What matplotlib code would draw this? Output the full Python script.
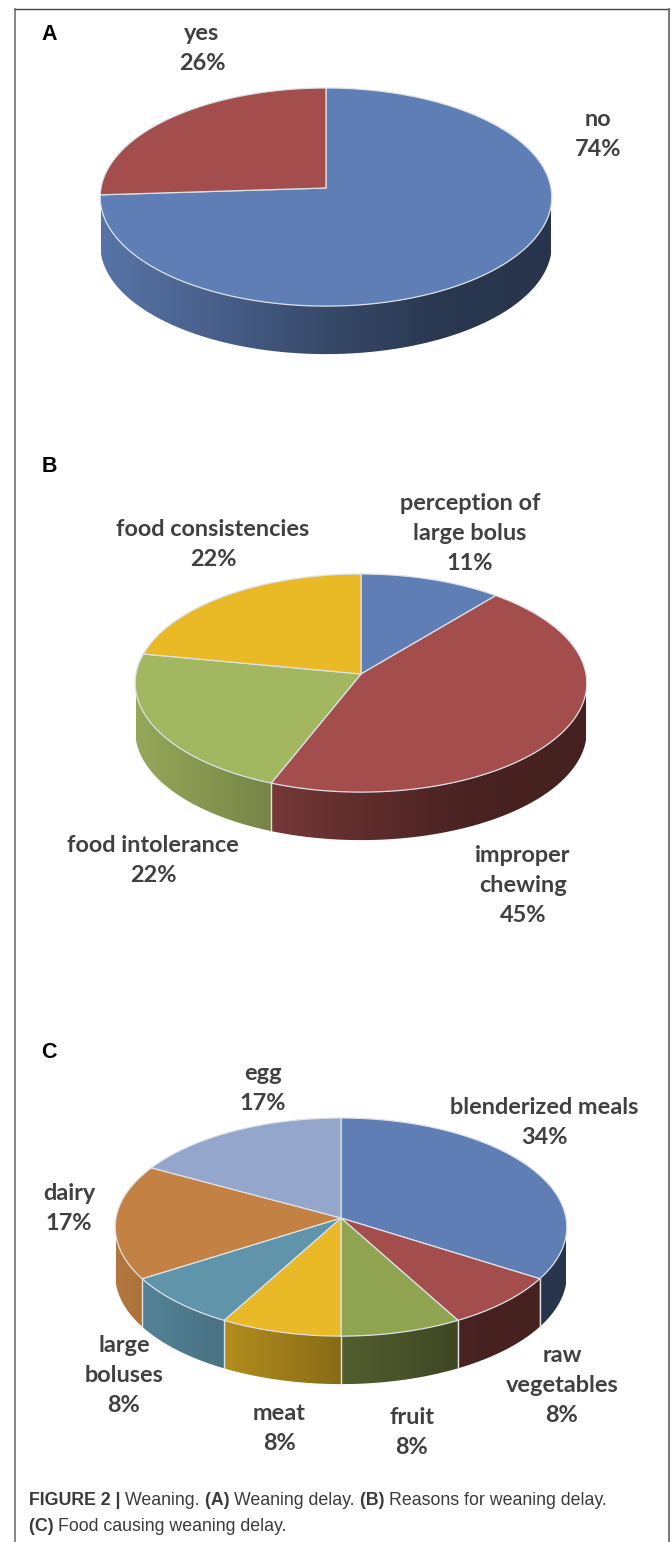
import numpy as np
import matplotlib
matplotlib.use("Agg")
from matplotlib import pyplot as plt
from matplotlib.patches import Polygon

# pie values, percent, clockwise from 12 o'clock
labels_a = ["no\n74%", "yes\n26%"]
values_a = [74, 26]
labels_b = ["perception of\nlarge bolus\n11%", "improper\nchewing\n45%", "food intolerance\n22%", "food consistencies\n22%"]
values_b = [11, 45, 22, 22]
labels_c = ["blenderized meals\n34%", "raw\nvegetables\n8%", "fruit\n8%", "meat\n8%", "large\nboluses\n8%", "dairy\n17%", "egg\n17%"]
values_c = [34, 8, 8, 8, 8, 17, 17]

colors_a = ["#5f7eb6", "#a34e4c"]
colors_b = ["#5f7eb6", "#a34e4c", "#a3b660", "#eab926"]
colors_c = ["#5f7eb6", "#a34e4c", "#90a350", "#e9b927", "#5f94ab", "#c48144", "#94a6cb"]

# label centres, first line centre y in pixels
pos_a = [(598, 120), (202, 33)]
pos_b = [(470, 503), (523, 856), (153, 845), (213, 530)]
pos_c = [(544, 1108), (562, 1356), (412, 1417), (279, 1413), (124, 1346), (69, 1194), (263, 1073)]

LABEL_FONT = "Lato"
LABEL_SIZE = 16.9
LINE_GAP = 30.0
RX = 225.0
RY = 108.3
K = 0.083
DEPTH = 48.0
SHADE_X = [0.0, 0.25, 0.5, 0.75, 1.0]
SHADE_F = [0.92, 0.76, 0.58, 0.44, 0.42]


def rim(t, cx, cy, depth=0.0):
    # perspective circle, t in radians clockwise from top
    u, v = np.sin(t), np.cos(t)
    w = 1 + K * v
    return cx + RX * u / w, cy - RY * v / w + depth


def draw_wall(ax, t0, t1, cx, cy, color):
    front0 = np.arccos(-K)
    front1 = 2 * np.pi - front0
    t0, t1 = max(t0, front0), min(t1, front1)
    if t1 <= t0:
        return
    t = np.linspace(t0, t1, 120)
    x, y = rim(t, cx, cy)
    xb, yb = rim(t[::-1], cx, cy, DEPTH)
    poly = Polygon(np.c_[np.r_[x, xb], np.r_[y, yb]], closed=True, fc="none", ec="none")
    ax.add_patch(poly)
    rgb = np.array(matplotlib.colors.to_rgb(color))
    xs = np.linspace(cx - RX, cx + RX, 300)
    shade = np.interp((xs - xs[0]) / (xs[-1] - xs[0]), SHADE_X, SHADE_F)
    grad = (shade[:, None] * rgb)[None, :, :]
    im = ax.imshow(grad, extent=[xs[0], xs[-1], cy + RY * 2 + DEPTH, cy - RY * 2],
                   aspect="auto", interpolation="bilinear", zorder=2)
    im.set_clip_path(poly)


def draw_pie(ax, values, colors, cx, cy):
    edges = np.r_[0, np.cumsum(values)] / np.sum(values) * 2 * np.pi
    for i, c in enumerate(colors):
        draw_wall(ax, edges[i], edges[i + 1], cx, cy, c)
    front0 = np.arccos(-K)
    for e in edges[1:-1]:
        if front0 < e < 2 * np.pi - front0:
            x, y = rim(e, cx, cy)
            ax.plot([x, x], [y, y + DEPTH], color="#dfe3e8", lw=1.0, zorder=3)
    for i, c in enumerate(colors):
        t = np.linspace(edges[i], edges[i + 1], 200)
        x, y = rim(t, cx, cy)
        pts = np.c_[np.r_[cx, x], np.r_[cy, y]]
        ax.add_patch(Polygon(pts, closed=True, fc=c, ec="#dde1e8", lw=0.9, zorder=4))


def draw_labels(ax, labels, positions):
    for lab, (x, y) in zip(labels, positions):
        for j, line in enumerate(lab.split("\n")):
            ax.text(x, y + j * LINE_GAP, line, ha="center", va="center", family=LABEL_FONT,
                    weight="bold", fontsize=LABEL_SIZE, color="#404040", zorder=5)


def run_text(ax, fig, x, y, parts, size):
    # bold and regular pieces on one line
    r = fig.canvas.get_renderer()
    for s, w in parts:
        t = ax.text(x, y, s, family="Liberation Sans", weight=w, fontsize=size,
                    color="#3a3a3a", ha="left", va="baseline", zorder=5)
        bb = t.get_window_extent(r)
        x = ax.transData.inverted().transform((bb.x1, 0))[0]


fig = plt.figure(figsize=(6.72, 15.42), dpi=100)
ax = fig.add_axes([0, 0, 1, 1])
ax.set_xlim(0, 672)
ax.set_ylim(1542, 0)
ax.axis("off")

draw_pie(ax, values_a, colors_a, 326, 188)
draw_pie(ax, values_b, colors_b, 361, 674)
draw_pie(ax, values_c, colors_c, 341, 1218)
ax.set_xlim(0, 672)
ax.set_ylim(1542, 0)

draw_labels(ax, labels_a, pos_a)
draw_labels(ax, labels_b, pos_b)
draw_labels(ax, labels_c, pos_c)

for s, y in [("A", 35), ("B", 467), ("C", 1053)]:
    ax.text(49, y, s, ha="center", va="center", family="Liberation Sans", weight="bold",
            fontsize=15.5, color="black", zorder=5)

ax.plot([14.5, 14.5], [1542, 8.5], color="#666666", lw=1.1, zorder=1)
ax.plot([14.5, 668.5], [8.5, 8.5], color="#444444", lw=1.0, zorder=1)
ax.plot([668.5, 668.5], [8.5, 1542], color="#777777", lw=1.4, zorder=1)

run_text(ax, fig, 29, 1505, [("FIGURE 2 | ", "bold"), ("Weaning. ", "normal"), ("(A) ", "bold"),
                             ("Weaning delay. ", "normal"), ("(B) ", "bold"),
                             ("Reasons for weaning delay.", "normal")], 12.8)
run_text(ax, fig, 29, 1531, [("(C) ", "bold"), ("Food causing weaning delay.", "normal")], 12.8)

fig.savefig("out.png", dpi=100)
